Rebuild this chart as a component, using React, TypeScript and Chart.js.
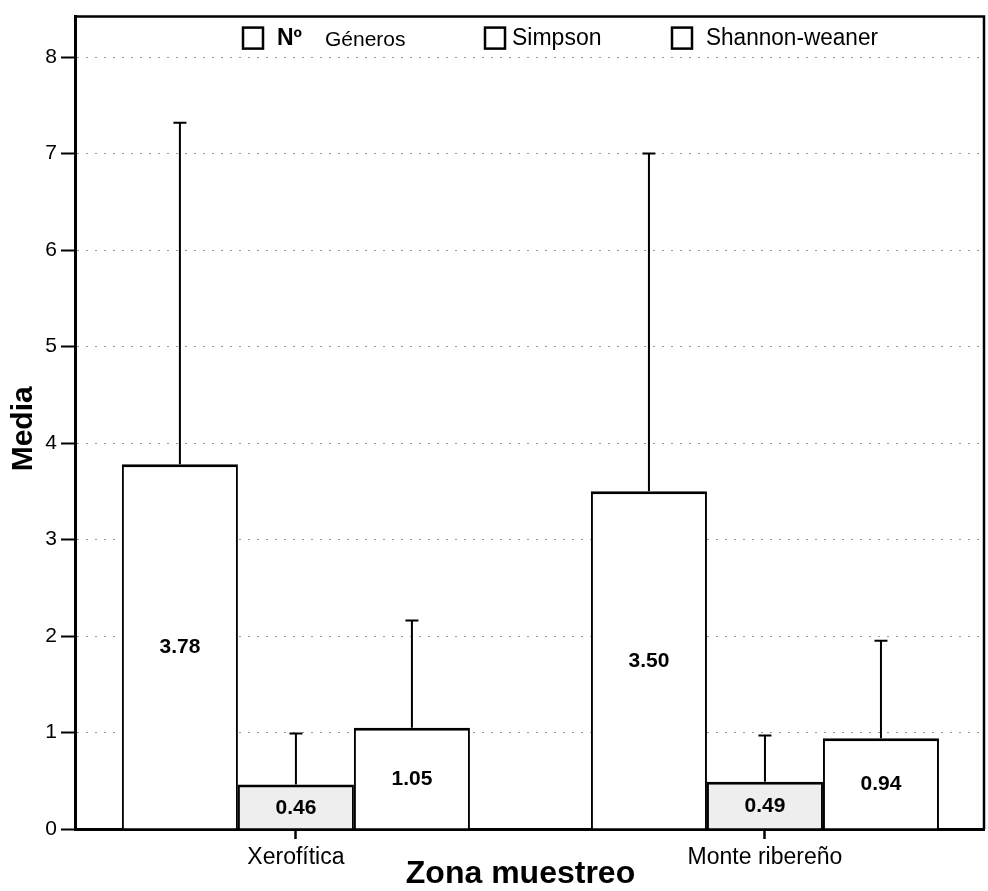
import React, { useEffect, useRef } from 'react';
import { Chart, registerables } from 'chart.js';

Chart.register(...registerables);

const CATEGORIES = ['Xerofítica', 'Monte ribereño'];
const SERIES_LABELS = ['Nº Géneros', 'Simpson', 'Shannon-weaner'];
const GENEROS_MEAN = [3.78, 3.5];
const SIMPSON_MEAN = [0.46, 0.49];
const SHANNON_MEAN = [1.05, 0.94];
const GENEROS_UPPER = [7.32, 7.0];
const SIMPSON_UPPER = [0.99, 0.97];
const SHANNON_UPPER = [2.16, 1.95];
const Y_TICKS = [0, 1, 2, 3, 4, 5, 6, 7, 8];
const Y_MAX = 8.42;
const X_MIN = -0.471;
const X_MAX = 1.467;
const X_TITLE = 'Zona muestreo';
const Y_TITLE = 'Media';

const FONT = '"Liberation Sans", Arial, Helvetica, sans-serif';

const FILLS = ['#ffffff', '#eeeeee', '#ffffff'];

const overlayPlugin = {
  id: 'overlay',
  afterDatasetsDraw(chart: any) {
    const ctx = chart.ctx;
    const yScale = chart.scales.y;
    ctx.save();
    chart.data.datasets.forEach((ds: any, di: number) => {
      const meta = chart.getDatasetMeta(di);
      meta.data.forEach((bar: any, i: number) => {
        const upper = ds.errUpper[i];
        const yTop = bar.y;
        const yErr = yScale.getPixelForValue(upper);
        ctx.strokeStyle = '#000';
        ctx.lineWidth = 2;
        ctx.beginPath();
        ctx.moveTo(bar.x, yTop);
        ctx.lineTo(bar.x, yErr);
        ctx.moveTo(bar.x - 6.5, yErr);
        ctx.lineTo(bar.x + 6.5, yErr);
        ctx.stroke();
        const base = yScale.getPixelForValue(0);
        ctx.fillStyle = '#000';
        ctx.font = `bold 21px ${FONT}`;
        ctx.textAlign = 'center';
        ctx.textBaseline = 'middle';
        ctx.fillText(ds.data[i].y.toFixed(2), bar.x, (yTop + base) / 2 + 1);
      });
    });
    ctx.restore();
  },
  afterDraw(chart: any) {
    const ctx = chart.ctx;
    const a = chart.chartArea;
    ctx.save();
    ctx.strokeStyle = '#000';
    ctx.lineWidth = 2.5;
    ctx.beginPath();
    ctx.moveTo(a.left, a.top);
    ctx.lineTo(a.right, a.top);
    ctx.lineTo(a.right, a.bottom);
    ctx.stroke();

    const boxY = a.top + 11;
    const textY = a.top + 22;
    const items = [
      { dx: 168, label: SERIES_LABELS[0] },
      { dx: 410, label: SERIES_LABELS[1] },
      { dx: 597, label: SERIES_LABELS[2] },
    ];
    items.forEach((it, idx) => {
      const x = a.left + it.dx;
      ctx.fillStyle = '#fff';
      ctx.fillRect(x, boxY, 20, 21);
      ctx.strokeStyle = '#000';
      ctx.lineWidth = 2.5;
      ctx.strokeRect(x, boxY, 20, 21);
      ctx.fillStyle = '#000';
      ctx.textBaseline = 'middle';
      ctx.textAlign = 'left';
      if (idx === 0) {
        const [first, ...rest] = it.label.split(' ');
        ctx.font = `bold 23px ${FONT}`;
        ctx.fillText(first, x + 34, textY);
        ctx.font = `21px ${FONT}`;
        ctx.fillText(rest.join(' '), x + 82, textY + 2);
      } else {
        ctx.font = `23px ${FONT}`;
        ctx.fillText(it.label, x + (idx === 1 ? 27 : 34), textY, idx === 2 ? 172 : 95);
      }
    });

    ctx.fillStyle = '#000';
    ctx.font = `bold 32px ${FONT}`;
    ctx.textAlign = 'center';
    ctx.textBaseline = 'alphabetic';
    ctx.fillText(X_TITLE, (a.left + a.right) / 2 - 9, chart.height - 8);

    ctx.save();
    ctx.translate(32, (a.top + a.bottom) / 2 + 6);
    ctx.rotate(-Math.PI / 2);
    ctx.font = `bold 30px ${FONT}`;
    ctx.textAlign = 'center';
    ctx.textBaseline = 'alphabetic';
    ctx.fillText(Y_TITLE, 0, 0);
    ctx.restore();

    ctx.restore();
  },
};

export default function App() {
  const canvasRef = useRef<HTMLCanvasElement | null>(null);

  useEffect(() => {
    if (!canvasRef.current) return;
    Chart.defaults.font.family = FONT;
    const means = [GENEROS_MEAN, SIMPSON_MEAN, SHANNON_MEAN];
    const uppers = [GENEROS_UPPER, SIMPSON_UPPER, SHANNON_UPPER];
    const chart = new Chart(canvasRef.current, {
      type: 'bar',
      data: {
        datasets: SERIES_LABELS.map((label, si) => ({
          label,
          data: means[si].map((y, i) => ({ x: i, y })),
          errUpper: uppers[si],
          backgroundColor: FILLS[si],
          borderColor: '#000',
          borderWidth: { top: 3, left: 2, right: 2, bottom: 0 },
          borderSkipped: false,
          categoryPercentage: 0.742,
          barPercentage: 1,
        })) as any,
      },
      options: {
        animation: false,
        responsive: false,
        events: [],
        layout: { padding: { top: 12, right: 4, bottom: 0, left: 0 } },
        plugins: {
          legend: { display: false },
          tooltip: { enabled: false },
          title: { display: false },
        },
        scales: {
          x: {
            type: 'linear',
            min: X_MIN,
            max: X_MAX,
            offset: false,
            afterBuildTicks: (scale: any) => {
              scale.ticks = CATEGORIES.map((_, i) => ({ value: i }));
            },
            afterFit: (scale: any) => {
              scale.height = 62;
            },
            ticks: {
              callback: (v: any) => CATEGORIES[v] ?? '',
              color: '#000',
              font: { size: 23, family: FONT },
              padding: 5,
              maxRotation: 0,
              autoSkip: false,
            },
            grid: {
              display: true,
              offset: false,
              drawOnChartArea: false,
              drawTicks: true,
              tickLength: 10,
              tickColor: '#000',
              tickWidth: 2.5,
            },
            border: { display: true, color: '#000', width: 3 },
          },
          y: {
            min: 0,
            max: Y_MAX,
            afterBuildTicks: (scale: any) => {
              scale.ticks = Y_TICKS.map((v) => ({ value: v }));
            },
            afterFit: (scale: any) => {
              scale.width = 75;
            },
            ticks: {
              color: '#000',
              font: { size: 21, family: FONT },
              padding: 4,
            },
            grid: {
              display: true,
              color: 'rgba(0,0,0,0.4)',
              lineWidth: 1,
              tickBorderDash: [],
              tickColor: '#000',
              tickWidth: 2,
              tickLength: 14,
              drawTicks: true,
            },
            border: { display: true, color: '#000', width: 3, dash: [2, 7] },
          },
        },
      } as any,
      plugins: [overlayPlugin],
    });
    return () => chart.destroy();
  }, []);

  return (
    <div style={{ position: 'fixed', left: 0, top: 0, width: 988, height: 891, background: '#fff' }}>
      <canvas ref={canvasRef} width={988} height={891} style={{ display: 'block' }} />
    </div>
  );
}
